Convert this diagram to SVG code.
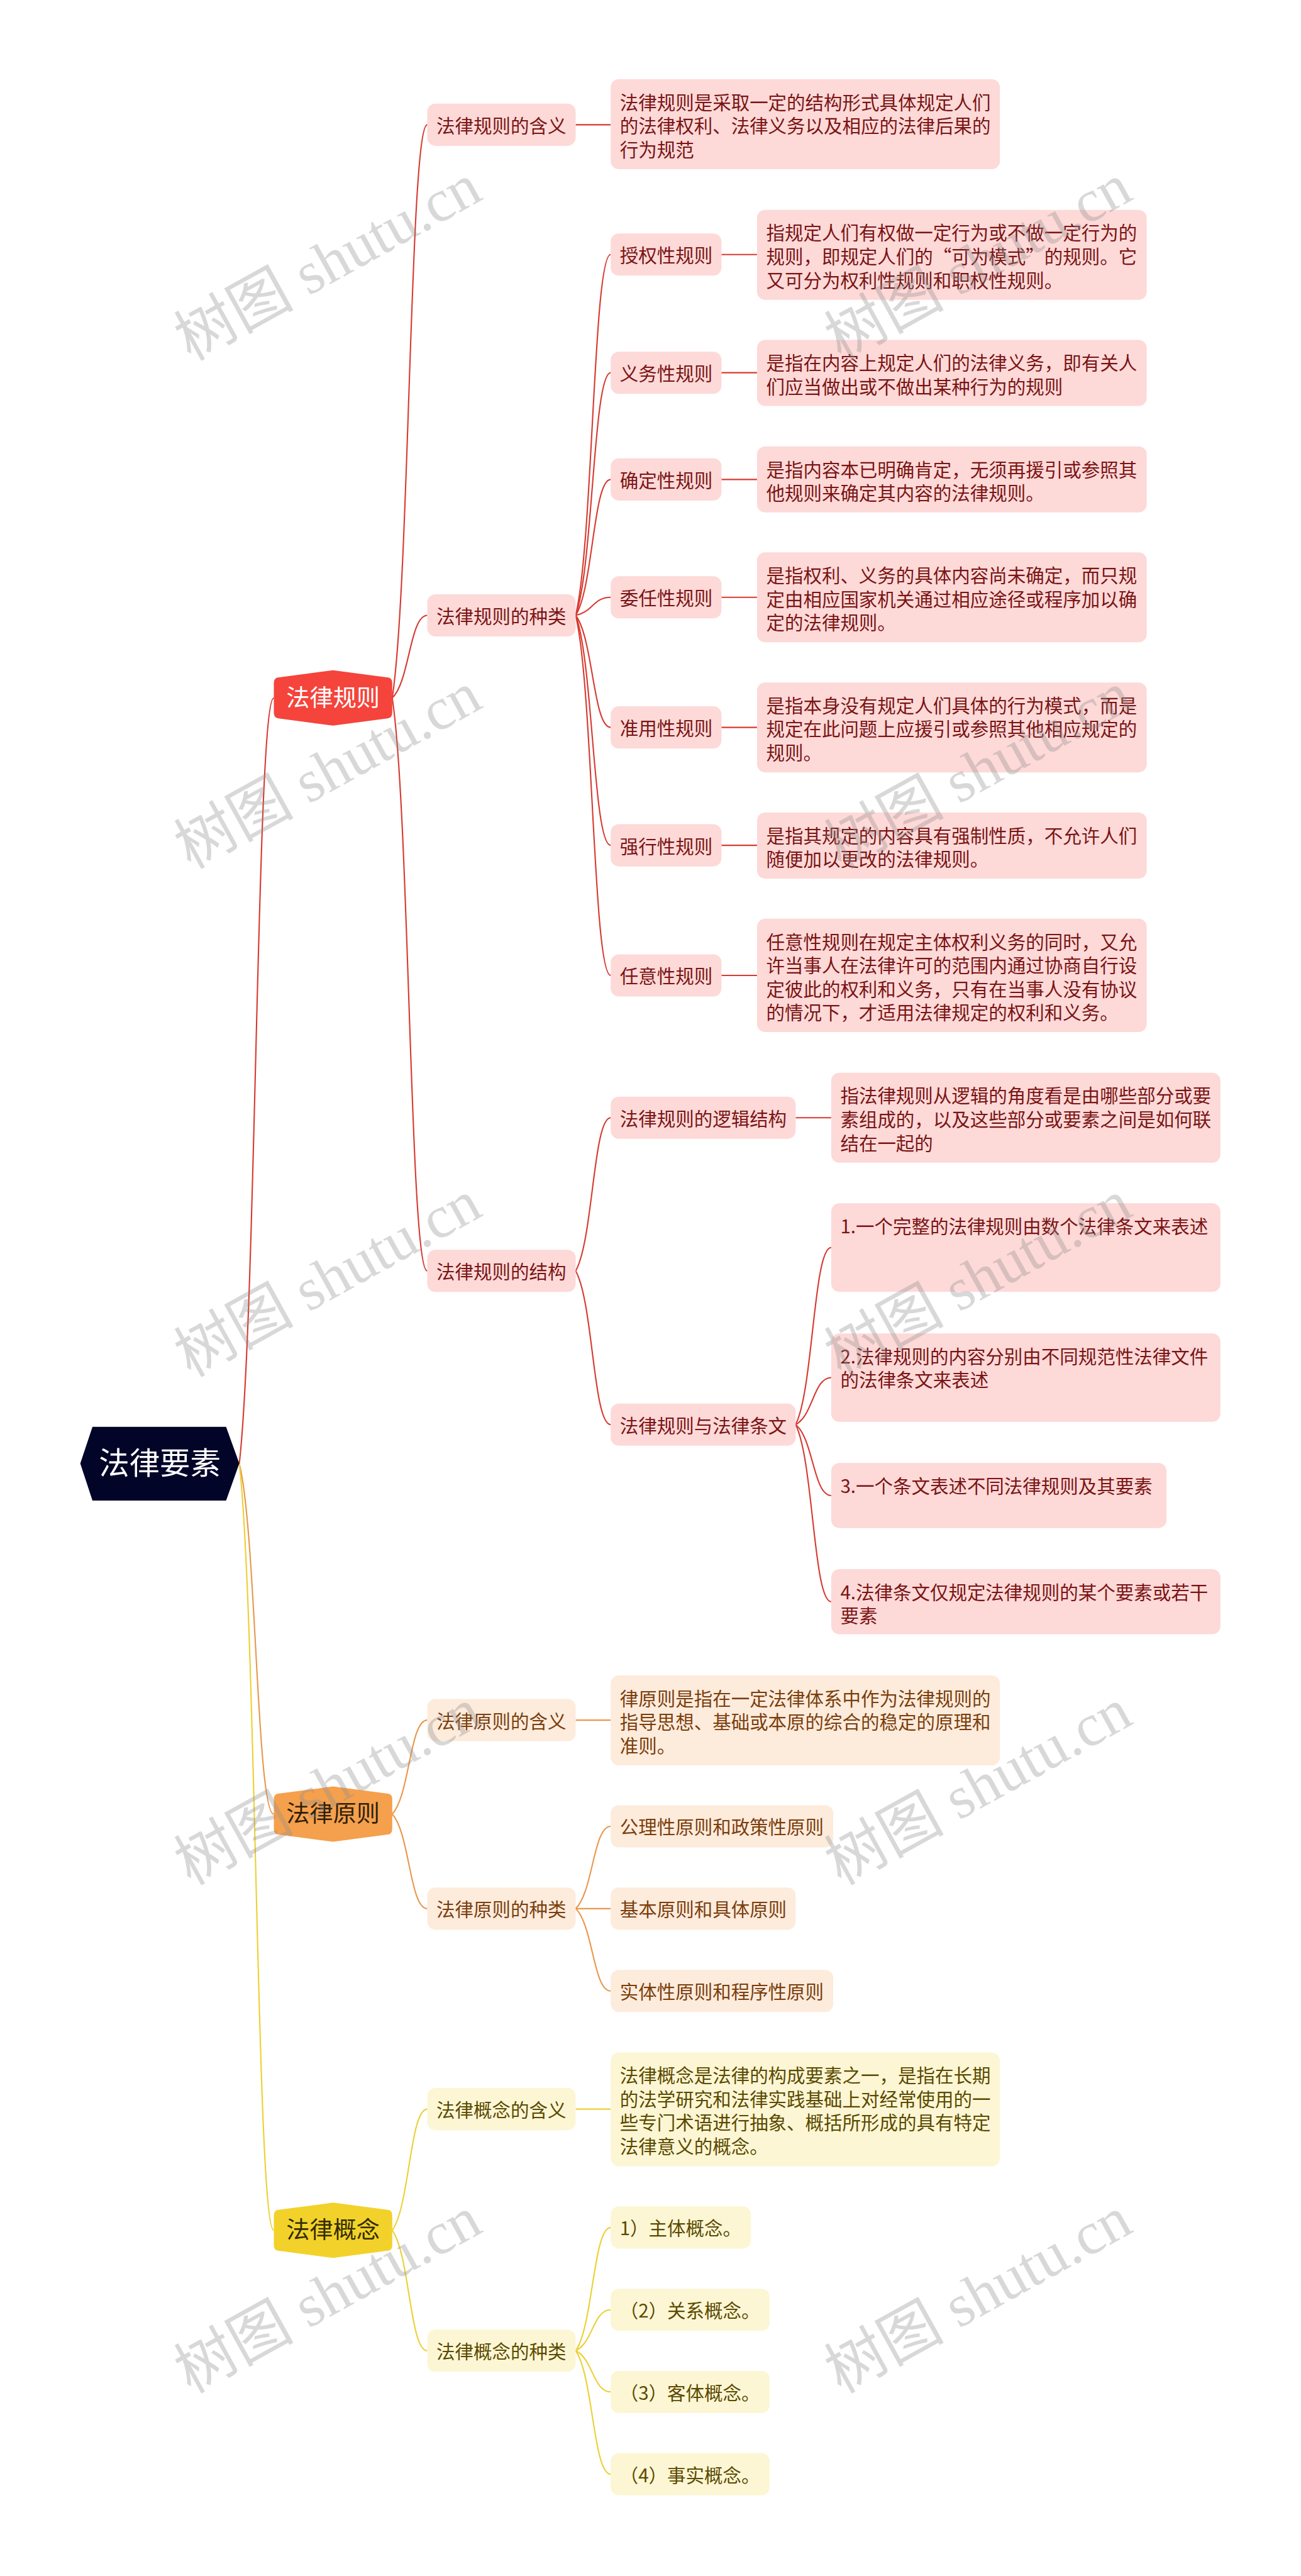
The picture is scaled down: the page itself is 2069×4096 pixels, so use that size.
<svg xmlns="http://www.w3.org/2000/svg" width="2069" height="4096" viewBox="0 0 2069 4096">
<style>
.t{font-family:"Noto Sans CJK SC","Noto Sans","Liberation Sans",sans-serif;font-size:36.5px}
.mt{font-size:46px;text-anchor:middle}
.rt0{font-size:60px;text-anchor:middle;fill:#ffffff}
.rb{fill:#fdd9d8}.ob{fill:#fdebdc}.yb{fill:#fdf6d4}
.rt{fill:#7a1414}.ot{fill:#7a3e0c}.yt{fill:#5a4a00}
.c{fill:none;stroke-width:2.6}
.cr{stroke:#d63a30}.co{stroke:#e9974c}.cy{stroke:#ecd032}
.wm{font-family:"Liberation Serif","Noto Sans CJK SC",serif;font-size:118px;fill:#8f8f8f;opacity:.34;text-anchor:middle}
</style>
<defs>
<path id="ms" d="M11 -40.5 L116.5 -54.5 L222 -40.5 Q233 -40.5 233 -29.5 L233 29.5 Q233 40.5 222 40.5 L116.5 54.5 L11 40.5 Q0 40.5 0 29.5 L0 -29.5 Q0 -40.5 11 -40.5Z"/>
</defs>
<rect x="0" y="0" width="2069" height="4096" fill="#ffffff"/>
<g transform="scale(0.808)">
<g id="connectors">
<path class="c cr" d="M471 2880 C505 2578.7 505 1373.5 539 1373.5"/>
<path class="c co" d="M471 2880 C505 3018 505 3570 539 3570"/>
<path class="c cy" d="M471 2880 C505 3181.8 505 4389 539 4389"/>
<path class="c cr" d="M772 1373.5 C806.5 1147.9 806.5 245.5 841 245.5"/>
<path class="c cr" d="M772 1373.5 C806.5 1341 806.5 1211 841 1211"/>
<path class="c cr" d="M772 1373.5 C806.5 1599 806.5 2501 841 2501"/>
<path class="c cr" d="M1133 245.5 L1202 245.5"/>
<path class="c cr" d="M1133 1211 C1167.5 1069 1167.5 501 1202 501"/>
<path class="c cr" d="M1133 1211 C1167.5 1115.5 1167.5 733.5 1202 733.5"/>
<path class="c cr" d="M1133 1211 C1167.5 1157.5 1167.5 943.5 1202 943.5"/>
<path class="c cr" d="M1133 1211 C1167.5 1203.9 1167.5 1175.5 1202 1175.5"/>
<path class="c cr" d="M1133 1211 C1167.5 1255.1 1167.5 1431.5 1202 1431.5"/>
<path class="c cr" d="M1133 1211 C1167.5 1301.5 1167.5 1663.5 1202 1663.5"/>
<path class="c cr" d="M1133 1211 C1167.5 1352.7 1167.5 1919.5 1202 1919.5"/>
<path class="c cr" d="M1420 501 L1490 501"/>
<path class="c cr" d="M1420 733.5 L1490 733.5"/>
<path class="c cr" d="M1420 943.5 L1490 943.5"/>
<path class="c cr" d="M1420 1175.5 L1490 1175.5"/>
<path class="c cr" d="M1420 1431.5 L1490 1431.5"/>
<path class="c cr" d="M1420 1663.5 L1490 1663.5"/>
<path class="c cr" d="M1420 1919.5 L1490 1919.5"/>
<path class="c cr" d="M1133 2501 C1167.5 2440.7 1167.5 2199.5 1202 2199.5"/>
<path class="c cr" d="M1133 2501 C1167.5 2561.5 1167.5 2803.5 1202 2803.5"/>
<path class="c cr" d="M1566 2199.5 L1636 2199.5"/>
<path class="c cr" d="M1566 2803.5 C1601 2733.8 1601 2455 1636 2455"/>
<path class="c cr" d="M1566 2803.5 C1601 2785 1601 2711 1636 2711"/>
<path class="c cr" d="M1566 2803.5 C1601 2831.4 1601 2943 1636 2943"/>
<path class="c cr" d="M1566 2803.5 C1601 2873.2 1601 3152 1636 3152"/>
<path class="c co" d="M772 3570 C806.5 3533 806.5 3385 841 3385"/>
<path class="c co" d="M772 3570 C806.5 3607.2 806.5 3756 841 3756"/>
<path class="c co" d="M1133 3385 L1202 3385"/>
<path class="c co" d="M1133 3756 C1167.5 3723.6 1167.5 3594 1202 3594"/>
<path class="c co" d="M1133 3756 L1202 3756"/>
<path class="c co" d="M1133 3756 C1167.5 3788.4 1167.5 3918 1202 3918"/>
<path class="c cy" d="M772 4389 C806.5 4341.3 806.5 4150.5 841 4150.5"/>
<path class="c cy" d="M772 4389 C806.5 4436.4 806.5 4626 841 4626"/>
<path class="c cy" d="M1133 4150.5 L1202 4150.5"/>
<path class="c cy" d="M1133 4626 C1167.5 4577.5 1167.5 4383.5 1202 4383.5"/>
<path class="c cy" d="M1133 4626 C1167.5 4609.9 1167.5 4545.5 1202 4545.5"/>
<path class="c cy" d="M1133 4626 C1167.5 4642.2 1167.5 4707 1202 4707"/>
<path class="c cy" d="M1133 4626 C1167.5 4674.6 1167.5 4869 1202 4869"/>
</g>

<g id="root">
<polygon points="158,2880 182,2808 445,2808 471,2880 445,2953 182,2953" fill="#020428"/>
<text class="t rt0" x="314.5" y="2901">法律要素</text>
</g>

<g id="n-guize">
<use href="#ms" x="539" y="1373.5" fill="#f5443b"/>
<text class="t mt" x="655.5" y="1389.5" fill="#ffffff">法律规则</text>
</g>
<g id="n-yuanze">
<use href="#ms" x="539" y="3570" fill="#f5a04c"/>
<text class="t mt" x="655.5" y="3586" fill="#2e1f0c">法律原则</text>
</g>
<g id="n-gainian">
<use href="#ms" x="539" y="4389" fill="#f2d22a"/>
<text class="t mt" x="655.5" y="4405" fill="#332c00">法律概念</text>
</g>

<g id="n-gz-hanyi"><rect class="rb" x="841" y="204" width="292" height="83" rx="16"/><text class="t rt" x="859" y="261">法律规则的含义</text></g>
<g id="n-gz-hanyi-d"><rect class="rb" x="1202" y="156" width="766" height="177" rx="16"/><text class="t rt" x="1220" y="215"><tspan x="1220">法律规则是采取一定的结构形式具体规定人们</tspan><tspan x="1220" dy="46.5">的法律权利、法律义务以及相应的法律后果的</tspan><tspan x="1220" dy="46.5">行为规范</tspan></text></g>

<g id="n-gz-zhonglei"><rect class="rb" x="841" y="1169.5" width="292" height="83" rx="16"/><text class="t rt" x="859" y="1226.5">法律规则的种类</text></g>

<g id="n-shouquan"><rect class="rb" x="1202" y="459.5" width="218" height="83" rx="16"/><text class="t rt" x="1220" y="516.5">授权性规则</text></g>
<g id="n-shouquan-d"><rect class="rb" x="1490" y="413" width="767" height="177" rx="16"/><text class="t rt" x="1508" y="472"><tspan x="1508">指规定人们有权做一定行为或不做一定行为的</tspan><tspan x="1508" dy="46.5">规则，即规定人们的“可为模式”的规则。它</tspan><tspan x="1508" dy="46.5">又可分为权利性规则和职权性规则。</tspan></text></g>

<g id="n-yiwu"><rect class="rb" x="1202" y="692" width="218" height="83" rx="16"/><text class="t rt" x="1220" y="749">义务性规则</text></g>
<g id="n-yiwu-d"><rect class="rb" x="1490" y="669" width="767" height="130" rx="16"/><text class="t rt" x="1508" y="728"><tspan x="1508">是指在内容上规定人们的法律义务，即有关人</tspan><tspan x="1508" dy="46.5">们应当做出或不做出某种行为的规则</tspan></text></g>

<g id="n-queding"><rect class="rb" x="1202" y="902" width="218" height="83" rx="16"/><text class="t rt" x="1220" y="959">确定性规则</text></g>
<g id="n-queding-d"><rect class="rb" x="1490" y="878.5" width="767" height="130" rx="16"/><text class="t rt" x="1508" y="937.5"><tspan x="1508">是指内容本已明确肯定，无须再援引或参照其</tspan><tspan x="1508" dy="46.5">他规则来确定其内容的法律规则。</tspan></text></g>

<g id="n-weiren"><rect class="rb" x="1202" y="1134" width="218" height="83" rx="16"/><text class="t rt" x="1220" y="1191">委任性规则</text></g>
<g id="n-weiren-d"><rect class="rb" x="1490" y="1087" width="767" height="177" rx="16"/><text class="t rt" x="1508" y="1146"><tspan x="1508">是指权利、义务的具体内容尚未确定，而只规</tspan><tspan x="1508" dy="46.5">定由相应国家机关通过相应途径或程序加以确</tspan><tspan x="1508" dy="46.5">定的法律规则。</tspan></text></g>

<g id="n-zhunyong"><rect class="rb" x="1202" y="1390" width="218" height="83" rx="16"/><text class="t rt" x="1220" y="1447">准用性规则</text></g>
<g id="n-zhunyong-d"><rect class="rb" x="1490" y="1343" width="767" height="177" rx="16"/><text class="t rt" x="1508" y="1402"><tspan x="1508">是指本身没有规定人们具体的行为模式，而是</tspan><tspan x="1508" dy="46.5">规定在此问题上应援引或参照其他相应规定的</tspan><tspan x="1508" dy="46.5">规则。</tspan></text></g>

<g id="n-qiangxing"><rect class="rb" x="1202" y="1622" width="218" height="83" rx="16"/><text class="t rt" x="1220" y="1679">强行性规则</text></g>
<g id="n-qiangxing-d"><rect class="rb" x="1490" y="1599" width="767" height="130" rx="16"/><text class="t rt" x="1508" y="1658"><tspan x="1508">是指其规定的内容具有强制性质，不允许人们</tspan><tspan x="1508" dy="46.5">随便加以更改的法律规则。</tspan></text></g>

<g id="n-renyi"><rect class="rb" x="1202" y="1878" width="218" height="83" rx="16"/><text class="t rt" x="1220" y="1935">任意性规则</text></g>
<g id="n-renyi-d"><rect class="rb" x="1490" y="1808" width="767" height="223" rx="16"/><text class="t rt" x="1508" y="1867"><tspan x="1508">任意性规则在规定主体权利义务的同时，又允</tspan><tspan x="1508" dy="46.5">许当事人在法律许可的范围内通过协商自行设</tspan><tspan x="1508" dy="46.5">定彼此的权利和义务，只有在当事人没有协议</tspan><tspan x="1508" dy="46.5">的情况下，才适用法律规定的权利和义务。</tspan></text></g>

<g id="n-gz-jiegou"><rect class="rb" x="841" y="2459.5" width="292" height="83" rx="16"/><text class="t rt" x="859" y="2516.5">法律规则的结构</text></g>
<g id="n-luoji"><rect class="rb" x="1202" y="2158" width="364" height="83" rx="16"/><text class="t rt" x="1220" y="2215">法律规则的逻辑结构</text></g>
<g id="n-luoji-d"><rect class="rb" x="1636" y="2111" width="766" height="177" rx="16"/><text class="t rt" x="1654" y="2170"><tspan x="1654">指法律规则从逻辑的角度看是由哪些部分或要</tspan><tspan x="1654" dy="46.5">素组成的，以及这些部分或要素之间是如何联</tspan><tspan x="1654" dy="46.5">结在一起的</tspan></text></g>
<g id="n-tiaowen"><rect class="rb" x="1202" y="2762" width="364" height="83" rx="16"/><text class="t rt" x="1220" y="2819">法律规则与法律条文</text></g>
<g id="n-tw1"><rect class="rb" x="1636" y="2368" width="766" height="174" rx="16"/><text class="t rt" x="1654" y="2427">1.一个完整的法律规则由数个法律条文来表述</text></g>
<g id="n-tw2"><rect class="rb" x="1636" y="2624" width="766" height="174" rx="16"/><text class="t rt" x="1654" y="2683"><tspan x="1654">2.法律规则的内容分别由不同规范性法律文件</tspan><tspan x="1654" dy="46.5">的法律条文来表述</tspan></text></g>
<g id="n-tw3"><rect class="rb" x="1636" y="2879" width="660" height="128" rx="16"/><text class="t rt" x="1654" y="2938">3.一个条文表述不同法律规则及其要素</text></g>
<g id="n-tw4"><rect class="rb" x="1636" y="3088" width="766" height="128" rx="16"/><text class="t rt" x="1654" y="3147"><tspan x="1654">4.法律条文仅规定法律规则的某个要素或若干</tspan><tspan x="1654" dy="46.5">要素</tspan></text></g>

<g id="n-yz-hanyi"><rect class="ob" x="841" y="3343.5" width="292" height="83" rx="16"/><text class="t ot" x="859" y="3400.5">法律原则的含义</text></g>
<g id="n-yz-hanyi-d"><rect class="ob" x="1202" y="3297" width="766" height="177" rx="16"/><text class="t ot" x="1220" y="3356"><tspan x="1220">律原则是指在一定法律体系中作为法律规则的</tspan><tspan x="1220" dy="46.5">指导思想、基础或本原的综合的稳定的原理和</tspan><tspan x="1220" dy="46.5">准则。</tspan></text></g>
<g id="n-yz-zhonglei"><rect class="ob" x="841" y="3714.5" width="292" height="83" rx="16"/><text class="t ot" x="859" y="3771.5">法律原则的种类</text></g>
<g id="n-yz-1"><rect class="ob" x="1202" y="3552.5" width="438" height="83" rx="16"/><text class="t ot" x="1220" y="3609.5">公理性原则和政策性原则</text></g>
<g id="n-yz-2"><rect class="ob" x="1202" y="3714.5" width="364" height="83" rx="16"/><text class="t ot" x="1220" y="3771.5">基本原则和具体原则</text></g>
<g id="n-yz-3"><rect class="ob" x="1202" y="3876.5" width="438" height="83" rx="16"/><text class="t ot" x="1220" y="3933.5">实体性原则和程序性原则</text></g>

<g id="n-gn-hanyi"><rect class="yb" x="841" y="4109" width="292" height="83" rx="16"/><text class="t yt" x="859" y="4166">法律概念的含义</text></g>
<g id="n-gn-hanyi-d"><rect class="yb" x="1202" y="4039" width="766" height="224" rx="16"/><text class="t yt" x="1220" y="4098"><tspan x="1220">法律概念是法律的构成要素之一，是指在长期</tspan><tspan x="1220" dy="46.5">的法学研究和法律实践基础上对经常使用的一</tspan><tspan x="1220" dy="46.5">些专门术语进行抽象、概括所形成的具有特定</tspan><tspan x="1220" dy="46.5">法律意义的概念。</tspan></text></g>
<g id="n-gn-zhonglei"><rect class="yb" x="841" y="4584.5" width="292" height="83" rx="16"/><text class="t yt" x="859" y="4641.5">法律概念的种类</text></g>
<g id="n-gn-1"><rect class="yb" x="1202" y="4342" width="276" height="83" rx="16"/><text class="t yt" x="1220" y="4399">1）主体概念。</text></g>
<g id="n-gn-2"><rect class="yb" x="1202" y="4504" width="313" height="83" rx="16"/><text class="t yt" x="1220" y="4561">（2）关系概念。</text></g>
<g id="n-gn-3"><rect class="yb" x="1202" y="4665.5" width="313" height="83" rx="16"/><text class="t yt" x="1220" y="4722.5">（3）客体概念。</text></g>
<g id="n-gn-4"><rect class="yb" x="1202" y="4827.5" width="313" height="83" rx="16"/><text class="t yt" x="1220" y="4884.5">（4）事实概念。</text></g>

<g id="watermarks">
<text class="wm" transform="translate(645 516) rotate(-29)" y="40">树图 shutu.cn</text>
<text class="wm" transform="translate(1925 516) rotate(-29)" y="40">树图 shutu.cn</text>
<text class="wm" transform="translate(645 1516) rotate(-29)" y="40">树图 shutu.cn</text>
<text class="wm" transform="translate(1925 1516) rotate(-29)" y="40">树图 shutu.cn</text>
<text class="wm" transform="translate(645 2516) rotate(-29)" y="40">树图 shutu.cn</text>
<text class="wm" transform="translate(1925 2516) rotate(-29)" y="40">树图 shutu.cn</text>
<text class="wm" transform="translate(645 3516) rotate(-29)" y="40">树图 shutu.cn</text>
<text class="wm" transform="translate(1925 3516) rotate(-29)" y="40">树图 shutu.cn</text>
<text class="wm" transform="translate(645 4516) rotate(-29)" y="40">树图 shutu.cn</text>
<text class="wm" transform="translate(1925 4516) rotate(-29)" y="40">树图 shutu.cn</text>
</g>
</g>
</svg>
